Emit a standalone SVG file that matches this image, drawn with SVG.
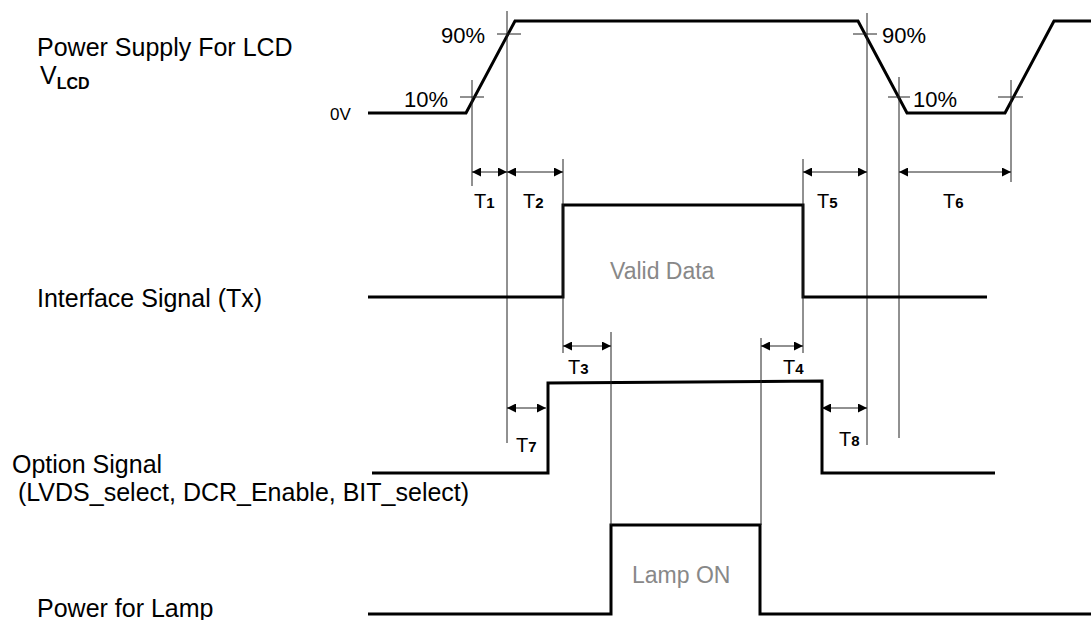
<svg xmlns="http://www.w3.org/2000/svg" width="1091" height="620" viewBox="0 0 1091 620">
<defs>
<marker id="arr" viewBox="0 0 10 10" refX="10" refY="5" markerWidth="10" markerHeight="9" markerUnits="userSpaceOnUse" orient="auto-start-reverse">
<path d="M0,0 L10,5 L0,10 z" fill="#000"/>
</marker>
<style>
.sig{fill:none;stroke:#000;stroke-width:3;stroke-linejoin:miter}
.thin{fill:none;stroke:#222;stroke-width:1}
.dim{fill:none;stroke:#222;stroke-width:1;marker-start:url(#arr);marker-end:url(#arr)}
.lbl{font-family:"Liberation Sans",Arial,sans-serif;font-size:25px;fill:#000}
.pct{font-family:"Liberation Sans",Arial,sans-serif;font-size:22px;fill:#000}
.grey{font-family:"Liberation Sans",Arial,sans-serif;font-size:23px;fill:#888}
.t{font-family:"Liberation Sans",Arial,sans-serif;font-size:20px;fill:#000}
.sub{font-size:15px;font-weight:bold}
</style>
</defs>
<rect width="1091" height="620" fill="#fff"/>
<g id="labels">
<text class="lbl" x="37" y="56">Power Supply For LCD</text>
<text class="lbl" x="40" y="84">V<tspan style="font-size:16px;font-weight:bold" dy="5">LCD</tspan></text>
<text class="pct" x="330" y="120" style="font-size:17px">0V</text>
<text class="lbl" x="37" y="307">Interface Signal (Tx)</text>
<text class="lbl" x="12" y="473">Option Signal</text>
<text class="lbl" x="18" y="501">(LVDS_select, DCR_Enable, BIT_select)</text>
<text class="lbl" x="37" y="617">Power for Lamp</text>
</g>
<g id="vlcd">
<polyline class="sig" points="368,113 466,113 515,21 858,21 907,113 1005,113 1054,21 1091,21"/>
<line class="thin" x1="460" y1="97" x2="484" y2="97"/>
<line class="thin" x1="472" y1="80" x2="472" y2="186"/>
<line class="thin" x1="497" y1="34" x2="521" y2="34"/>
<line class="thin" x1="507" y1="11" x2="507" y2="443"/>
<line class="thin" x1="853" y1="34" x2="877" y2="34"/>
<line class="thin" x1="867" y1="13" x2="867" y2="445"/>
<line class="thin" x1="888" y1="97" x2="910" y2="97"/>
<line class="thin" x1="899" y1="77" x2="899" y2="438"/>
<line class="thin" x1="998" y1="97" x2="1023" y2="97"/>
<line class="thin" x1="1011" y1="80" x2="1011" y2="182"/>
<text class="pct" x="441" y="43">90%</text>
<text class="pct" x="404" y="107">10%</text>
<text class="pct" x="882" y="43">90%</text>
<text class="pct" x="913" y="107">10%</text>
</g>
<g id="interface">
<polyline class="sig" points="368,297 563,297 563,205 803,205 803,297 987,297"/>
<line class="thin" x1="563" y1="159" x2="563" y2="353"/>
<line class="thin" x1="803" y1="159" x2="803" y2="353"/>
<text class="grey" x="610" y="279">Valid Data</text>
</g>
<g id="option">
<polyline class="sig" points="372,473 548,473 548,383 822,381 822,473 995,473"/>
</g>
<g id="lamp">
<polyline class="sig" points="368,614 611,614 611,525 760,525 760,614 1091,614"/>
<line class="thin" x1="611" y1="332" x2="611" y2="525"/>
<line class="thin" x1="761" y1="338" x2="761" y2="525"/>
<text class="grey" x="632" y="583">Lamp ON</text>
</g>
<g id="connectors">
<line class="dim" x1="472" y1="172" x2="507" y2="172"/>
<line class="dim" x1="507" y1="172" x2="563" y2="172"/>
<line class="dim" x1="803" y1="172" x2="867" y2="172"/>
<line class="dim" x1="899" y1="172" x2="1011" y2="172"/>
<line class="dim" x1="563" y1="346" x2="611" y2="346"/>
<line class="dim" x1="761" y1="346" x2="803" y2="346"/>
<line class="dim" x1="507" y1="408" x2="546" y2="408"/>
<line class="dim" x1="822" y1="408" x2="867" y2="408"/>
</g>
<g id="timing-labels">
<text class="t" x="474" y="208">T<tspan class="sub">1</tspan></text>
<text class="t" x="523" y="208">T<tspan class="sub">2</tspan></text>
<text class="t" x="817" y="208">T<tspan class="sub">5</tspan></text>
<text class="t" x="943" y="208">T<tspan class="sub">6</tspan></text>
<text class="t" x="568" y="374">T<tspan class="sub">3</tspan></text>
<text class="t" x="783" y="374">T<tspan class="sub">4</tspan></text>
<text class="t" x="516" y="452">T<tspan class="sub">7</tspan></text>
<text class="t" x="839" y="446">T<tspan class="sub">8</tspan></text>
</g>
</svg>
